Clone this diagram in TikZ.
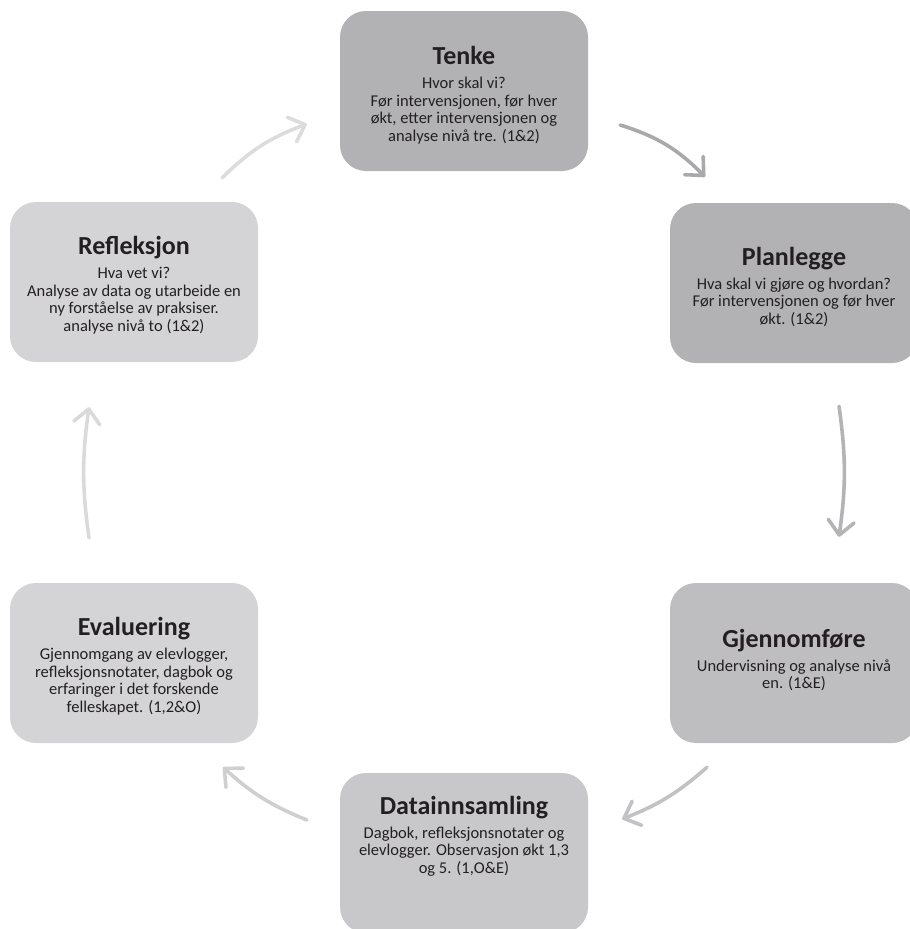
\documentclass[tikz,border=0pt]{standalone}
\usepackage{fontspec}
\setmainfont{Carlito}
\usetikzlibrary{positioning,calc,arrows.meta}

\definecolor{tenkegray}{RGB}{178,178,180}
\definecolor{plangray}{RGB}{178,178,180}
\definecolor{gjengray}{RGB}{190,190,192}
\definecolor{datagray}{RGB}{200,200,202}
\definecolor{evalgray}{RGB}{212,212,214}
\definecolor{reflgray}{RGB}{212,212,214}
\definecolor{textdark}{RGB}{35,31,32}

\newcommand{\ttl}[1]{{\fontsize{26}{26}\selectfont\bfseries #1}\\[6.5pt]}

\begin{document}
\begin{tikzpicture}[x=1pt,y=1pt,
	box/.style={rectangle, rounded corners=26pt, minimum width=248pt, minimum height=160pt, inner sep=0pt},
	txt/.style={align=center, text=textdark, inner sep=0pt, font=\fontsize{16.5}{17.5}\selectfont},
	arr/.style={line width=3.6pt, line cap=round, -{Straight Barb[length=14pt,width=26pt,round]}}]
		\useasboundingbox (0,0) rectangle (910,-929);
		\clip (0,0) rectangle (910,-929);
		
		\node [box, fill=tenkegray] (tenke) at (464,-91) {};
		\node [box, fill=plangray] (plan) at (794,-283) {};
		\node [box, fill=gjengray] (gjen) at (794,-663) {};
		\node [box, fill=datagray] (data) at (464,-853) {};
		\node [box, fill=evalgray] (eval) at (134,-663) {};
		\node [box, fill=reflgray] (refl) at (134,-282) {};
		
		\node [txt, shift={(0,-4)}] (tenket) at (tenke.center) {\ttl{Tenke}Hvor skal vi?\\Før intervensjonen, før hver\\økt, etter intervensjonen og\\analyse nivå tre. (1\&2)};
		\node [txt, shift={(0,-4)}] (plant) at (plan.center) {\ttl{Planlegge}Hva skal vi gjøre og hvordan?\\Før intervensjonen og før hver\\økt. (1\&2)};
		\node [txt, shift={(0,3)}] (gjent) at (gjen.center) {\ttl{Gjennomføre}Undervisning og analyse nivå\\en. (1\&E)};
		\node [txt, shift={(0,17)}] (datat) at (data.center) {\ttl{Datainnsamling}Dagbok, refleksjonsnotater og\\elevlogger. Observasjon økt 1,3\\og 5. (1,O\&E)};
		\node [txt, shift={(0,-3)}] (evalt) at (eval.center) {\ttl{Evaluering}Gjennomgang av elevlogger,\\refleksjonsnotater, dagbok og\\erfaringer i det forskende\\felleskapet. (1,2\&O)};
		\node [txt, shift={(0,-3)}] (reflt) at (refl.center) {\ttl{Refleksjon}Hva vet vi?\\Analyse av data og utarbeide en\\ny forståelse av praksiser.\\analyse nivå to (1\&2)};
		
		\coordinate (reflout) at ($(refl.north east)+(-36,24)$);
		\coordinate (tenkein) at ($(tenke.west)+(-33,-33)$);
		\coordinate (tenkeout) at ($(tenke.east)+(32,-34)$);
		\coordinate (planin) at ($(plan.north)+(-89,26)$);
		\coordinate (planout) at ($(plan.south)+(45,-43)$);
		\coordinate (gjenin) at ($(gjen.north)+(45,46)$);
		\coordinate (gjenout) at ($(gjen.south)+(-87,-24)$);
		\coordinate (datain) at ($(data.east)+(34,34)$);
		\coordinate (dataout) at ($(data.west)+(-33,33)$);
		\coordinate (evalin) at ($(eval.south)+(89,-24)$);
		\coordinate (evalout) at ($(eval.north)+(-45,45)$);
		\coordinate (reflin) at ($(refl.south)+(-45,-45)$);
		
		\draw[arr, color={rgb,255:red,220;green,220;blue,220}] (reflout) to[bend left=12] (tenkein);
		\draw[arr, color={rgb,255:red,169;green,169;blue,171}] (tenkeout) to[bend left=14] (planin);
		\draw[arr, color={rgb,255:red,180;green,180;blue,182}] (planout) to[bend left=8] (gjenin);
		\draw[arr, color={rgb,255:red,194;green,194;blue,196}] (gjenout) to[bend left=10] (datain);
		\draw[arr, color={rgb,255:red,207;green,207;blue,208}] (dataout) to[bend left=10] (evalin);
		\draw[arr, color={rgb,255:red,218;green,218;blue,218}] (evalout) to[bend left=8] (reflin);
	\end{tikzpicture}
\end{document}
